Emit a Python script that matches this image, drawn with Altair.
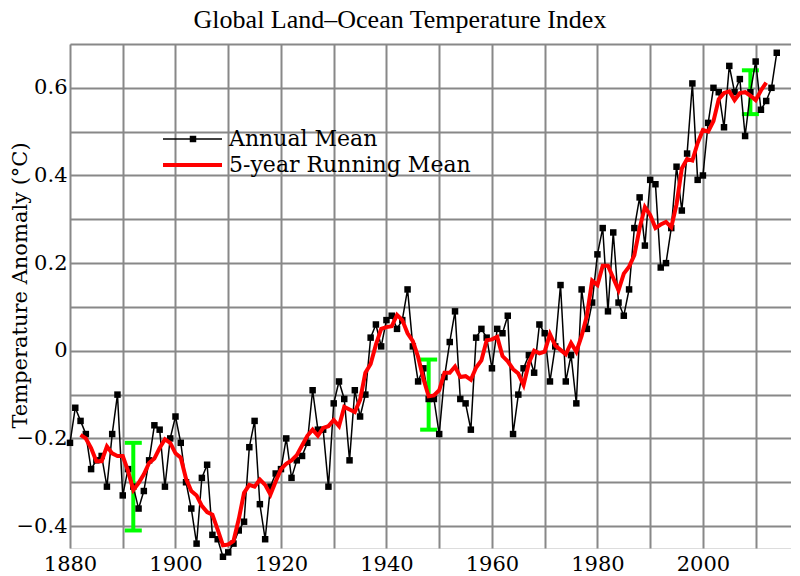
import altair as alt
import pandas as pd

# ---------------- data ----------------
years = list(range(1880, 2015))
annual_mean = [
    -0.21, -0.13, -0.16, -0.19, -0.27, -0.25, -0.24, -0.31, -0.19, -0.10,  # 1880s
    -0.33, -0.27, -0.31, -0.36, -0.32, -0.25, -0.17, -0.18, -0.31, -0.20,  # 1890s
    -0.15, -0.21, -0.30, -0.36, -0.44, -0.29, -0.26, -0.42, -0.43, -0.47,  # 1900s
    -0.46, -0.44, -0.41, -0.39, -0.22, -0.16, -0.35, -0.43, -0.31, -0.28,  # 1910s
    -0.27, -0.20, -0.29, -0.25, -0.24, -0.21, -0.09, -0.18, -0.18, -0.31,  # 1920s
    -0.12, -0.07, -0.11, -0.25, -0.09, -0.15, -0.10, 0.03, 0.06, 0.01,     # 1930s
    0.07, 0.08, 0.05, 0.07, 0.14, 0.01, -0.07, -0.04, -0.11, -0.11,        # 1940s
    -0.19, -0.06, 0.02, 0.09, -0.11, -0.12, -0.18, 0.03, 0.05, 0.03,       # 1950s
    -0.04, 0.05, 0.04, 0.08, -0.19, -0.10, -0.04, -0.01, -0.05, 0.06,      # 1960s
    0.04, -0.07, 0.01, 0.15, -0.07, -0.01, -0.12, 0.14, 0.05, 0.11,        # 1970s
    0.22, 0.28, 0.09, 0.27, 0.11, 0.08, 0.14, 0.28, 0.35, 0.24,            # 1980s
    0.39, 0.38, 0.19, 0.20, 0.28, 0.42, 0.32, 0.45, 0.61, 0.39,            # 1990s
    0.40, 0.52, 0.60, 0.59, 0.51, 0.65, 0.59, 0.62, 0.49, 0.59,            # 2000s
    0.66, 0.55, 0.57, 0.60, 0.68,                                          # 2010s
]

running_years = list(range(1882, 2013))
running_mean = [
    -0.192, -0.200, -0.222, -0.252, -0.252, -0.218, -0.234, -0.240,        # 1882-1889
    -0.240, -0.274, -0.318, -0.302, -0.282, -0.256, -0.246, -0.222, -0.202, -0.210,
    -0.234, -0.244, -0.292, -0.320, -0.330, -0.354, -0.368, -0.374, -0.408, -0.444,
    -0.442, -0.434, -0.384, -0.324, -0.306, -0.310, -0.294, -0.306, -0.328, -0.298,
    -0.270, -0.258, -0.250, -0.238, -0.216, -0.194, -0.180, -0.194, -0.176, -0.172,
    -0.158, -0.172, -0.128, -0.134, -0.140, -0.112, -0.050, -0.030, 0.014, 0.050,
    0.054, 0.056, 0.082, 0.070, 0.040, 0.022, -0.014, -0.064, -0.104, -0.102,
    -0.090, -0.050, -0.050, -0.036, -0.060, -0.058, -0.066, -0.038, -0.022, 0.024,
    0.026, 0.032, -0.012, -0.024, -0.042, -0.052, -0.078, -0.028, 0.000, -0.006,
    -0.002, 0.038, 0.012, 0.002, -0.008, 0.018, -0.002, 0.034, 0.080, 0.160,
    0.150, 0.194, 0.194, 0.166, 0.138, 0.176, 0.192, 0.218, 0.280, 0.328,
    0.310, 0.280, 0.288, 0.294, 0.282, 0.334, 0.416, 0.438, 0.434, 0.474,
    0.504, 0.500, 0.524, 0.574, 0.588, 0.592, 0.572, 0.588, 0.590, 0.582,
    0.572, 0.594, 0.612,
]

err_years = [1892, 1948, 2009]
err_low = [-0.41, -0.18, 0.54]
err_high = [-0.21, -0.02, 0.64]

legend_labels = ["Annual Mean", "5-year Running Mean"]

x_grid_values = list(range(1880, 2020, 10))
y_grid_values = [-0.4, -0.3, -0.2, -0.1, 0.0, 0.1, 0.2, 0.3, 0.4, 0.5, 0.6, 0.7]

# ---------------- tables ----------------
annual_df = pd.DataFrame({"year": years, "anomaly": annual_mean})
running_df = pd.DataFrame({"year": running_years, "anomaly": running_mean})
err_df = pd.DataFrame({"year": err_years, "low": err_low, "high": err_high})

W, H = 721, 504
SERIF = "DejaVu Serif"

x_scale = alt.Scale(domain=[1880, 2016.7], nice=False, zero=False)
y_scale = alt.Scale(domain=[-0.45, 0.7], nice=False, zero=False)

x_axis = alt.Axis(
    values=x_grid_values, format="d",
    labelExpr="datum.value % 20 == 0 ? datum.label : ''",
    grid=True, gridColor="#888888", gridWidth=2,
    ticks=False, tickSize=0, domain=False,
    labelFont=SERIF, labelFontSize=21, labelColor="black", labelPadding=5,
    title=None, labelFlush=False, labelOverlap=False,
)
y_axis = alt.Axis(
    values=y_grid_values,
    labelExpr="abs(datum.value) < 1e-9 ? '0' : (round(datum.value*10) % 2 == 0 ? replace(format(datum.value, '.1f'), '-', '\u2212') : '')",
    grid=True, gridColor="#888888", gridWidth=2,
    ticks=False, tickSize=0, domain=False,
    labelFont=SERIF, labelFontSize=21, labelColor="black", labelPadding=3,
    labelFlush=False, labelOverlap=False,
    title="Temperature Anomaly (\u00b0C)", titleFont=SERIF, titleFontSize=21,
    titleFontWeight="normal", titleColor="black", titleAngle=270,
    titleBaseline="top", titleX=-61, titleY=241,
)

X = alt.X("year:Q", scale=x_scale, axis=x_axis)
Y = alt.Y("anomaly:Q", scale=y_scale, axis=y_axis)

err_vert = alt.Chart(err_df).mark_rule(color="#00ff00", strokeWidth=4).encode(
    x=alt.X("year:Q", scale=x_scale), y=alt.Y("low:Q", scale=y_scale), y2="high:Q"
)
err_cap_low = alt.Chart(err_df).mark_rule(
    color="#00ff00", strokeWidth=4, xOffset=-8.5, x2Offset=8.5, strokeCap="butt"
).encode(x=alt.X("year:Q", scale=x_scale), x2="year:Q", y=alt.Y("low:Q", scale=y_scale))
err_cap_high = alt.Chart(err_df).mark_rule(
    color="#00ff00", strokeWidth=4, xOffset=-8.5, x2Offset=8.5, strokeCap="butt"
).encode(x=alt.X("year:Q", scale=x_scale), x2="year:Q", y=alt.Y("high:Q", scale=y_scale))

annual_line = alt.Chart(annual_df).mark_line(color="black", strokeWidth=1.5).encode(x=X, y=Y)
annual_pts = alt.Chart(annual_df).mark_point(
    shape="square", filled=True, color="black", size=42, opacity=1
).encode(x=alt.X("year:Q", scale=x_scale), y=alt.Y("anomaly:Q", scale=y_scale))

running_line = alt.Chart(running_df).mark_line(color="#ff0000", strokeWidth=4).encode(
    x=alt.X("year:Q", scale=x_scale), y=alt.Y("anomaly:Q", scale=y_scale)
)

# ---------------- legend (drawn inside the plot) ----------------
leg_df = pd.DataFrame({"label": legend_labels})
leg1 = leg_df.iloc[[0]]
leg2 = leg_df.iloc[[1]]
leg_line1 = alt.Chart(leg1).mark_rule(color="black", strokeWidth=1.5).encode(
    x=alt.value(93), x2=alt.value(152), y=alt.value(95)
)
leg_pt1 = alt.Chart(leg1).mark_point(shape="square", filled=True, color="black", size=42, opacity=1).encode(
    x=alt.value(123), y=alt.value(95)
)
leg_line2 = alt.Chart(leg2).mark_rule(color="#ff0000", strokeWidth=4).encode(
    x=alt.value(93), x2=alt.value(152), y=alt.value(121)
)
leg_text1 = alt.Chart(leg1).mark_text(
    align="left", baseline="middle", font=SERIF, fontSize=22, color="black"
).encode(x=alt.value(159), y=alt.value(95), text="label:N")
leg_text2 = alt.Chart(leg2).mark_text(
    align="left", baseline="middle", font=SERIF, fontSize=22, color="black"
).encode(x=alt.value(159), y=alt.value(121), text="label:N")

chart = alt.layer(
    err_vert, err_cap_low, err_cap_high,
    annual_line, annual_pts, running_line,
    leg_line1, leg_pt1, leg_line2, leg_text1, leg_text2,
).properties(
    width=W, height=H,
    title=alt.TitleParams(
        "Global Land\u2013Ocean Temperature Index",
        font="Liberation Serif", fontSize=26, fontWeight="normal", color="black",
        anchor="middle", frame="bounds", offset=0,
    ),
    autosize=alt.AutoSizeParams(type="none"),
    padding={"left": 62, "top": 36, "right": 0, "bottom": 28},
).configure_view(
    stroke="black", strokeWidth=2
).configure(background="white")

chart.save("out.html", embed_options={"renderer": "svg", "actions": False})
